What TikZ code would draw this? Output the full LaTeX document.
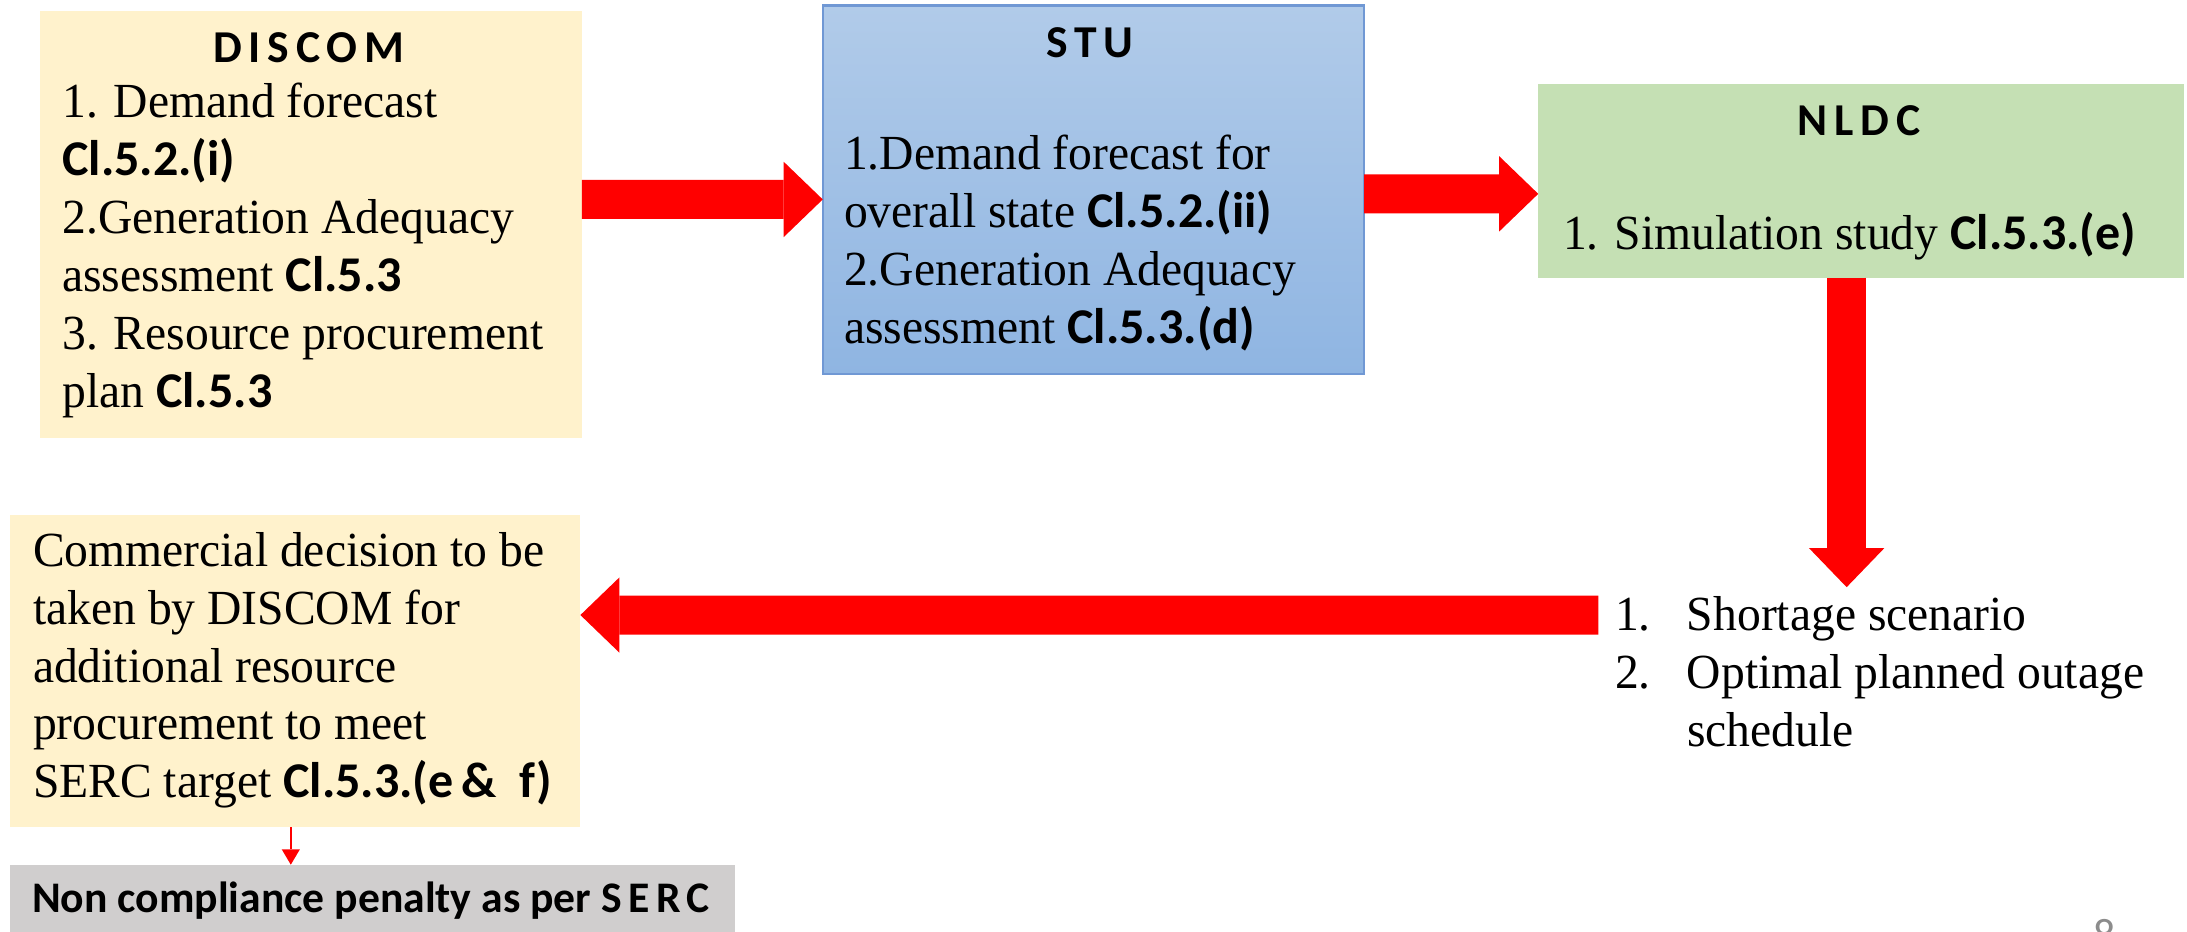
\documentclass[tikz,border=0pt]{standalone}
\usepackage{fontspec}
\setmainfont{Liberation Serif}[FakeStretch=0.97]
\newfontfamily\clfont{Carlito}
\newfontfamily\headfont{Carlito}[LetterSpace=15]
\usepackage{tikz}
\usetikzlibrary{arrows.meta}
\usetikzlibrary{calc}

\definecolor{discombg}{HTML}{FFF2CC}
\definecolor{stutop}{RGB}{177,203,233}
\definecolor{stubot}{RGB}{143,181,226}
\definecolor{stuline}{RGB}{112,152,212}
\definecolor{nldcbg}{HTML}{C5E0B4}
\definecolor{penaltybg}{HTML}{D0CECE}
\definecolor{arrowred}{HTML}{FF0000}
\definecolor{pagenum}{RGB}{140,140,140}

\newcommand{\cl}[1]{{\clfont\bfseries\fontsize{10.2pt}{11.8pt}\selectfont #1}}

\tikzset{
  blk/.style={rectangle, inner sep=0pt, outer sep=0pt},
  headtxt/.style={font=\headfont\bfseries\fontsize{9.3pt}{11pt}\selectfont, anchor=base, inner sep=0pt},
  bodytxt/.style={align=left, anchor=base west, inner sep=0pt, font=\fontsize{10pt}{11.8pt}\selectfont},
  bigarrow/.style={draw=arrowred, line width=0.28cm, -{Triangle[width=0.54cm,length=0.28cm,line width=0pt]}},
  thinarrow/.style={draw=arrowred, line width=0.4pt, -{Triangle[width=0.13cm,length=0.11cm,line width=0pt]}}
}

\begin{document}
\begin{tikzpicture}[x=0.01cm, y=-0.01cm]
  \useasboundingbox (0,0) rectangle (1568,668);
  \clip (0,0) rectangle (1568,668);

  % boxes
  \node[blk, fill=discombg, minimum width=3.88cm, minimum height=3.06cm] (discom) at (223,161) {};
  \node[blk, top color=stutop, bottom color=stubot, draw=stuline, line width=0.5pt,
        minimum width=3.88cm, minimum height=2.64cm] (stu) at (784,136) {};
  \node[blk, fill=nldcbg, minimum width=4.63cm, minimum height=1.39cm] (nldc) at (1334.5,129.5) {};
  \node[blk, fill=discombg, minimum width=4.09cm, minimum height=2.24cm] (comm) at (211.5,481) {};
  \node[blk, fill=penaltybg, minimum width=5.20cm, minimum height=0.60cm] (penalty) at (267,650) {};

  % texts (base = last line)
  \node[headtxt] (discomhead) at (221.5,45) {DISCOM};
  \node[bodytxt] (discomtxt) at (44,292) {1. Demand forecast\\ \cl{Cl.5.2.(i)}\\
    2.Generation Adequacy\\ assessment \cl{Cl.5.3}\\ 3. Resource procurement\\ plan \cl{Cl.5.3}};
  \node[headtxt] (stuhead) at (781.5,41) {STU};
  \node[bodytxt] (stutxt) at (604.5,246) {1.Demand forecast for\\ overall state \cl{Cl.5.2.(ii)}\\
    2.Generation Adequacy\\ assessment \cl{Cl.5.3.(d)}};
  \node[headtxt] (nldchead) at (1333,97) {NLDC};
  \node[bodytxt] (nldctxt) at (1120,178.7) {1. Simulation study \cl{Cl.5.3.(e)}};
  \node[bodytxt] (commtxt) at (23,572) {Commercial decision to be\\ taken by DISCOM for\\
    additional resource\\ procurement to meet\\ SERC target \cl{Cl.5.3.(e\,\&\ \ f)}};
  \node[blk, anchor=base west, font=\clfont\bfseries\fontsize{8.9pt}{10pt}\selectfont]
    (penaltytxt) at (23,654) {Non compliance penalty as per {\headfont SERC}};
  \node[blk, anchor=north west, align=left, inner xsep=0.12cm, inner ysep=0.07cm,
        font=\fontsize{10pt}{11.8pt}\selectfont] (list) at (1146,421)
    {\makebox[0.515cm][l]{1.}Shortage scenario\\ \makebox[0.515cm][l]{2.}Optimal planned outage\\
     \hspace*{0.515cm}schedule};
  \node[blk, anchor=north, text=pagenum, font=\clfont\fontsize{9pt}{10pt}\selectfont] (pgno) at (1509,659) {8};

  % arrows
  \draw[bigarrow] ([yshift=0.18cm]discom.east) -- ([yshift=-0.07cm]stu.west);
  \draw[bigarrow] ([yshift=-0.03cm]stu.east) -- ([yshift=-0.095cm]nldc.west);
  \draw[bigarrow] ([xshift=-0.105cm]nldc.south) -- ([xshift=-0.105cm]nldc.south |- list.north);
  \draw[bigarrow] ([yshift=-0.20cm]list.north west) -- ([yshift=0.40cm]comm.east);
  \draw[thinarrow] ([xshift=-0.03cm]comm.south) -- ([xshift=-0.03cm]comm.south |- penalty.north);
\end{tikzpicture}
\end{document}
